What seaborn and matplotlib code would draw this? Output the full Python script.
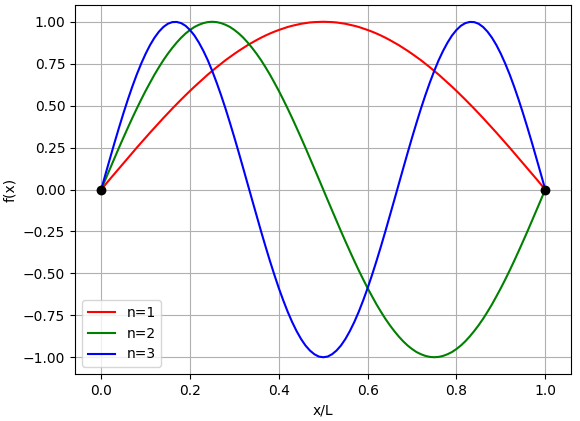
import matplotlib
matplotlib.use("Agg")
import matplotlib.pyplot as plt
import seaborn as sns
import pandas as pd

x_vals = [round(0.01 * k, 2) for k in range(101)]

n1_vals = [0, .031, .063, .094, .125, .156, .187, .218, .249, .279, .309, .339, .368, .397, .426, .454,
           .482, .509, .536, .562, .588, .613, .637, .661, .685, .707, .729, .750, .771, .790, .809, .827,
           .844, .861, .876, .891, .905, .918, .930, .941, .951, .960, .969, .976, .982, .988, .992, .996,
           .998, .999, 1.0,
           .999, .998, .996, .992, .988, .982, .976, .969, .960, .951, .941, .930, .918, .905, .891, .876,
           .861, .844, .827, .809, .790, .771, .750, .729, .707, .685, .661, .637, .613, .588, .562, .536,
           .509, .482, .454, .426, .397, .368, .339, .309, .279, .249, .218, .187, .156, .125, .094, .063,
           .031, 0]

n2_vals = [0, .063, .125, .187, .249, .309, .368, .426, .482, .536, .588, .637, .685, .729, .771, .809,
           .844, .876, .905, .930, .951, .969, .982, .992, .998, 1.0,
           .998, .992, .982, .969, .951, .930, .905, .876, .844, .809, .771, .729, .685, .637, .588, .536,
           .482, .426, .368, .309, .249, .187, .125, .063, 0,
           -.063, -.125, -.187, -.249, -.309, -.368, -.426, -.482, -.536, -.588, -.637, -.685, -.729,
           -.771, -.809, -.844, -.876, -.905, -.930, -.951, -.969, -.982, -.992, -.998, -1.0,
           -.998, -.992, -.982, -.969, -.951, -.930, -.905, -.876, -.844, -.809, -.771, -.729, -.685,
           -.637, -.588, -.536, -.482, -.426, -.368, -.309, -.249, -.187, -.125, -.063, 0]

n3_vals = [0, .094, .187, .279, .368, .454, .536, .613, .685, .750, .809, .861, .905, .941, .969, .988,
           .998, .999, .992, .976, .951, .918, .876, .827, .771, .707, .637, .562, .482, .397, .309, .218,
           .125, .031, -.063, -.156, -.249, -.339, -.426, -.509, -.588, -.661, -.729, -.790, -.844, -.891,
           -.930, -.960, -.982, -.996, -1.0,
           -.996, -.982, -.960, -.930, -.891, -.844, -.790, -.729, -.661, -.588, -.509, -.426, -.339,
           -.249, -.156, -.063, .031, .125, .218, .309, .397, .482, .562, .637, .707, .771, .827, .876,
           .918, .951, .976, .992, .999, .998, .988, .969, .941, .905, .861, .809, .750, .685, .613, .536,
           .454, .368, .279, .187, .094, 0]

series_labels = ["n=1", "n=2", "n=3"]
series_colors = ["red", "green", "blue"]

node_x = [0.0, 1.0]
node_y = [0.0, 0.0]

assert len(n1_vals) == len(n2_vals) == len(n3_vals) == len(x_vals)

rows = []
for lab, vals in zip(series_labels, [n1_vals, n2_vals, n3_vals]):
    for xv, yv in zip(x_vals, vals):
        rows.append({"x": xv, "y": yv, "n": lab})
df = pd.DataFrame(rows)

plt.rcParams["font.family"] = ["DejaVu Sans"]
fig, ax = plt.subplots(figsize=(5.8, 4.21), dpi=100)
fig.subplots_adjust(left=75 / 580, right=571 / 580, top=1 - 5 / 421, bottom=1 - 374 / 421)

sns.lineplot(data=df, x="x", y="y", hue="n", palette=dict(zip(series_labels, series_colors)),
             estimator=None, sort=False, linewidth=1.5, ax=ax)
sns.scatterplot(x=node_x, y=node_y, color="black", s=50, linewidth=0, zorder=5, ax=ax, legend=False)

ax.grid(True, color="#b0b0b0", linewidth=0.8)
ax.set_axisbelow(True)
ax.set_xlim(-0.059, 1.058)
ax.set_ylim(-1.1, 1.1)
ax.set_xlabel("x/L")
ax.set_ylabel("f(x)")
ax.set_xticks([0.0, 0.2, 0.4, 0.6, 0.8, 1.0])
ax.set_yticks([-1.0, -0.75, -0.5, -0.25, 0.0, 0.25, 0.5, 0.75, 1.0])
ax.set_yticklabels(["\u22121.00", "\u22120.75", "\u22120.50", "\u22120.25", "0.00", "0.25", "0.50", "0.75", "1.00"])
ax.legend(loc="lower left", title=None)

fig.savefig("out.png", dpi=100)
